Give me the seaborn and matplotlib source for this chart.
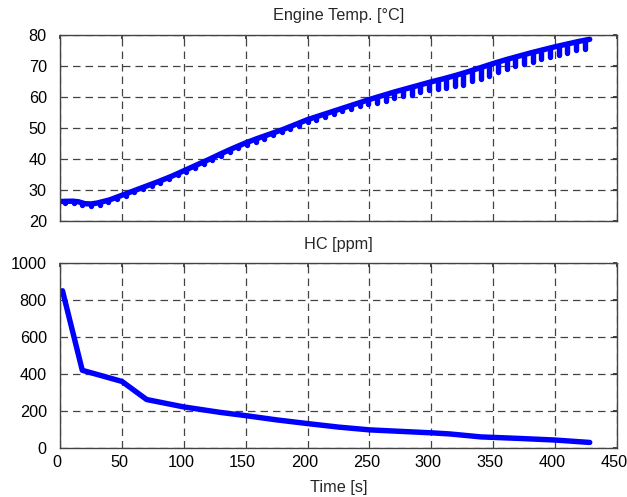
import numpy as np
import pandas as pd
import matplotlib
matplotlib.use('Agg')
import matplotlib.pyplot as plt
import matplotlib.transforms as mtransforms
import seaborn as sns

# engine temperature: slow base curve
base_t = [0, 10, 15, 20, 25, 30, 40, 50, 60, 70, 80, 90, 100, 110, 120, 130, 140, 150,
          160, 170, 180, 190, 200, 210, 220, 230, 240, 250, 260, 270, 280, 290, 300,
          310, 320, 330, 340, 350, 360, 370, 380, 390, 400, 410, 420, 428]
base_temp = [26.3, 26.4, 26.2, 25.6, 25.5, 25.8, 26.8, 28.3, 29.8, 31.3, 32.8, 34.4, 36.2,
             38.0, 39.8, 41.7, 43.5, 45.2, 46.7, 48.1, 49.5, 51.1, 52.7, 54.0, 55.3, 56.6,
             57.9, 59.2, 60.4, 61.6, 62.7, 63.8, 64.9, 65.9, 67.0, 68.2, 69.5, 70.8, 72.0,
             73.1, 74.2, 75.2, 76.2, 77.1, 78.0, 78.6]

# short downward dips on the temperature trace
spike_t = [4, 11, 18, 25, 32, 39, 46, 53, 60, 67, 74, 81, 88, 95, 102, 109, 116, 123,
           130, 137, 144, 151, 158, 165, 172, 179, 186, 193, 200, 207, 214, 221, 228,
           235, 242, 249, 256, 263, 270, 277, 284, 291, 298, 305, 312, 319, 326, 333,
           340, 347, 354, 361, 368, 375, 382, 389, 396, 403, 410, 417, 424]
spike_top = [26.3, 26.4, 25.8, 25.5, 25.9, 26.7, 27.7, 28.8, 29.8, 30.9, 31.9, 33.0, 34.1,
             35.3, 36.6, 37.8, 39.1, 40.4, 41.7, 43.0, 44.2, 45.4, 46.4, 47.4, 48.4, 49.4,
             50.4, 51.5, 52.7, 53.6, 54.5, 55.4, 56.3, 57.2, 58.2, 59.1, 59.9, 60.8, 61.6,
             62.4, 63.1, 63.9, 64.7, 65.4, 66.1, 66.9, 67.7, 68.6, 69.5, 70.4, 71.3, 72.1,
             72.9, 73.6, 74.4, 75.1, 75.8, 76.5, 77.1, 77.7, 78.3]
spike_low = [25.7, 25.8, 25.2, 24.9, 25.3, 26.1, 27.1, 28.2, 29.2, 30.3, 31.3, 32.4, 33.5,
             34.7, 35.8, 37.0, 38.3, 39.6, 40.9, 42.2, 43.4, 44.6, 45.6, 46.6, 47.6, 48.6,
             49.6, 50.7, 51.8, 52.7, 53.6, 54.5, 55.4, 56.2, 57.1, 57.7, 58.2, 58.7, 59.6,
             60.3, 60.8, 61.7, 62.4, 62.5, 62.8, 63.5, 63.9, 65.0, 65.8, 66.9, 68.2, 69.0,
             69.9, 70.8, 71.3, 72.3, 72.8, 73.7, 74.2, 75.0, 75.5]

# HC concentration
hc_t = [2, 18, 50, 70, 100, 130, 150, 175, 200, 225, 250, 275, 300, 315, 340, 370, 400, 428]
hc_ppm = [850, 420, 360, 262, 222, 192, 175, 152, 132, 113, 98, 90, 82, 76, 60, 52, 43, 30]

sns.set_theme(style='white')
plt.rcParams['font.family'] = ['Liberation Sans', 'DejaVu Sans']

temp_df = pd.DataFrame({'t': base_t, 'temp': base_temp})
hc_df = pd.DataFrame({'t': hc_t, 'hc': hc_ppm})

fig = plt.figure(figsize=(6.27, 4.97), dpi=100)
ax1 = fig.add_axes([0.0957, 0.5553, 0.8883, 0.3743])
ax2 = fig.add_axes([0.0957, 0.0986, 0.8883, 0.3722])

blue = '#0000ff'
lw = 3.9
fs = 11.7

sns.lineplot(data=temp_df, x='t', y='temp', ax=ax1, color=blue, linewidth=lw)
ax1.vlines(spike_t, spike_low, spike_top, color=blue, linewidth=lw, capstyle='round')
sns.lineplot(data=hc_df, x='t', y='hc', ax=ax2, color=blue, linewidth=lw)

for ax in (ax1, ax2):
    ax.set_xlim(0, 450)
    ax.set_xticks(np.arange(0, 451, 50))
    ax.grid(True, color='#222222', linestyle=(0, (6, 4)), linewidth=0.9, alpha=0.85)
    ax.tick_params(direction='in', length=3, top=True, right=True, labelsize=fs,
                   colors='#333333', labelcolor='black')
    ax.tick_params(axis='y', pad=9.5)
    ax.tick_params(axis='x', pad=5)
    for s in ax.spines.values():
        s.set_color('#444444')
        s.set_linewidth(1.0)
    ax.set_ylabel('')

ax1.set_ylim(20, 80)
ax1.set_yticks(np.arange(20, 81, 10))
ax1.set_xticklabels([])
ax1.set_xlabel('')
ax1.set_title('Engine Temp. [°C]', fontsize=fs, pad=11)

ax2.set_ylim(0, 1000)
ax2.set_yticks(np.arange(0, 1001, 200))
ax2.set_title('HC [ppm]', fontsize=fs, pad=10)
ax2.set_xlabel('Time [s]', fontsize=fs, labelpad=7)

# x tick labels sit a little left of their ticks in the original
shift = mtransforms.ScaledTranslation(-3 / 100, 0, fig.dpi_scale_trans)
for lab in ax2.get_xticklabels():
    lab.set_transform(lab.get_transform() + shift)

fig.savefig('out.png', dpi=100)
